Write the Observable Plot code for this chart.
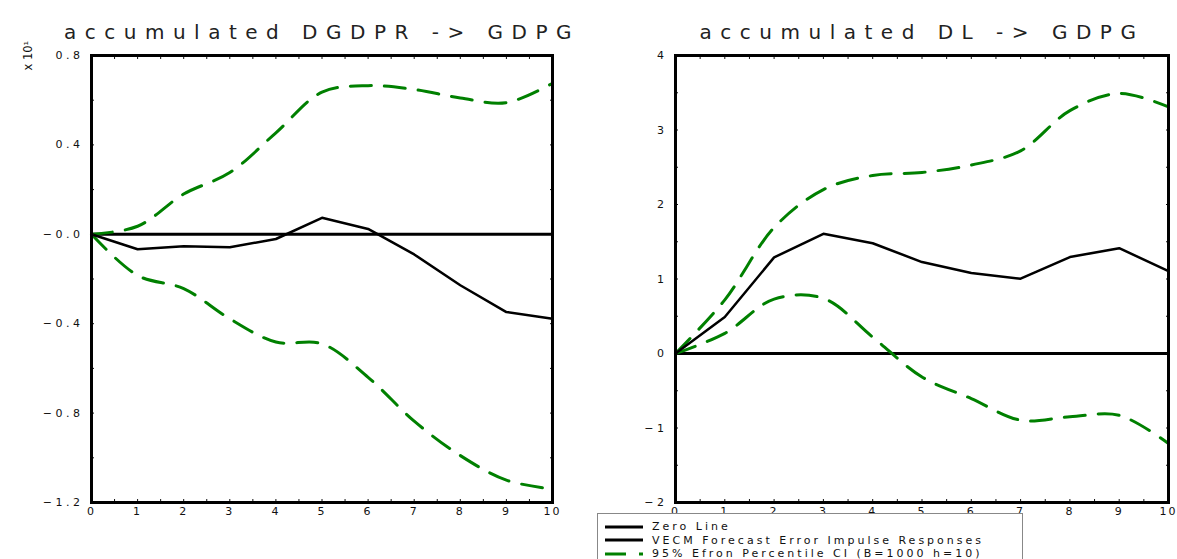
<!DOCTYPE html>
<html>
<head>
<meta charset="utf-8">
<script src="https://cdn.jsdelivr.net/npm/d3@7"></script>
<script src="https://cdn.jsdelivr.net/npm/@observablehq/plot@0.6"></script>
<style>
  body { margin: 0; background: #fff; }
  #wrap { position: relative; width: 1177px; height: 559px; overflow: hidden; font-family: "DejaVu Sans", sans-serif; }
  #left { position: absolute; left: 0; top: 0; }
  #right { position: absolute; left: 590px; top: 0; }
  #legend { position: absolute; left: 597px; top: 513px; width: 426px; height: 60px; background: #fff;
            border: 1px solid #888; box-sizing: border-box; padding-top: 6px; }
  #legend .row { height: 13.5px; display: flex; align-items: center; font-size: 11px; letter-spacing: 3px; color: #111; }
  #legend svg { margin-left: 7px; margin-right: 9px; }
</style>
</head>
<body>
<div id="wrap">
  <div id="left"></div>
  <div id="right"></div>
  <div id="legend"></div>
</div>
<script>
// horizon steps
const steps = [0, 1, 2, 3, 4, 5, 6, 7, 8, 9, 10];
const halfSteps = [0.5, 1.5, 2.5, 3.5, 4.5, 5.5, 6.5, 7.5, 8.5, 9.5];

// accumulated DGDPR -> GDPG  (x 10^1)
const dgdprResp = [0, -0.067, -0.054, -0.058, -0.021, 0.074, 0.024, -0.09, -0.228, -0.348, -0.378];
const dgdprHi   = [0, 0.036, 0.18, 0.276, 0.454, 0.636, 0.665, 0.648, 0.61, 0.589, 0.676];
const dgdprLo   = [0, -0.184, -0.243, -0.378, -0.482, -0.49, -0.64, -0.836, -0.99, -1.10, -1.14];

// accumulated DL -> GDPG
const dlResp = [0, 0.49, 1.29, 1.607, 1.48, 1.227, 1.08, 1.004, 1.294, 1.414, 1.106];
const dlHi   = [0, 0.72, 1.69, 2.2, 2.39, 2.43, 2.53, 2.72, 3.26, 3.49, 3.31];
const dlLo   = [0, 0.27, 0.73, 0.74, 0.22, -0.315, -0.605, -0.895, -0.85, -0.83, -1.21];

const leftTicks = [0.8, 0.4, 0, -0.4, -0.8, -1.2];
const leftTickLabels = ["0.8", "0.4", "\u22120.0", "\u22120.4", "\u22120.8", "\u22121.2"];
const leftMinor = [0.6, 0.2, -0.2, -0.6, -1.0];

const rightTicks = [4, 3, 2, 1, 0, -1, -2];
const rightTickLabels = ["4", "3", "2", "1", "0", "\u22121", "\u22122"];
const rightMinor = [3.5, 2.5, 1.5, 0.5, -0.5, -1.5];

const legendLabels = ["Zero Line", "VECM Forecast Error Impulse Responses", "95% Efron Percentile CI (B=1000 h=10)"];

const green = "#008000";

function panel({title, resp, lo, hi, yDomain, ticks, tickLabels, minor, width, marginLeft, marginRight, extra = []}) {
  const rows = steps.map((s, i) => ({s, resp: resp[i], lo: lo[i], hi: hi[i]}));
  const fmt = v => tickLabels[ticks.indexOf(v)];
  const allY = ticks.concat(minor);
  const allX = steps.concat(halfSteps);
  const chart = Plot.plot({
    width,
    height: 532,
    marginLeft,
    marginRight,
    marginTop: 55,
    marginBottom: 30,
    x: {domain: [0, 10], label: null},
    y: {domain: yDomain, label: null},
    style: {fontFamily: "DejaVu Sans", fontSize: "11px", color: "#111", background: "transparent", overflow: "visible"},
    marks: [
      Plot.ruleY([0], {stroke: "black", strokeWidth: 3}),
      Plot.line(rows, {x: "s", y: "hi", stroke: green, strokeWidth: 3, strokeDasharray: "21,13", curve: "catmull-rom"}),
      Plot.line(rows, {x: "s", y: "lo", stroke: green, strokeWidth: 3, strokeDasharray: "21,13", curve: "catmull-rom"}),
      Plot.line(rows, {x: "s", y: "resp", stroke: "black", strokeWidth: 2.5}),
      Plot.axisX({ticks: steps, tickSize: 0, tickPadding: 5, tickFormat: d => String(d), label: null}),
      Plot.axisX({ticks: allX, anchor: "bottom", tickSize: -3, tickFormat: () => "", label: null}),
      Plot.axisX({ticks: allX, anchor: "top", tickSize: -3, tickFormat: () => "", label: null}),
      Plot.axisY({ticks, anchor: "left", tickSize: 0, tickPadding: 8, tickFormat: fmt, label: null}),
      Plot.axisY({ticks: allY, anchor: "left", tickSize: -3, tickFormat: () => "", label: null}),
      Plot.axisY({ticks: allY, anchor: "right", tickSize: -3, tickFormat: () => "", label: null}),
      Plot.frame({stroke: "black", strokeWidth: 3}),
      Plot.text([title], {text: d => d, frameAnchor: "top", dy: -31, fontSize: 20, fill: "#222"}),
      ...extra
    ]
  });
  // tick labels: spaced out like the original plotter font
  d3.select(chart).selectAll("g[aria-label='y-axis tick label'] text")
    .style("font-size", "11px").style("letter-spacing", "3.5px");
  d3.select(chart).selectAll("g[aria-label='x-axis tick label'] text")
    .style("font-size", "11px").style("letter-spacing", "2px");
  d3.select(chart).selectAll("g[aria-label='text'] text").filter(function() { return this.textContent === title; })
    .style("letter-spacing", "8.5px");
  return chart;
}

const left = panel({
  title: "accumulated DGDPR -> GDPG",
  resp: dgdprResp, lo: dgdprLo, hi: dgdprHi,
  yDomain: [-1.2, 0.8],
  ticks: leftTicks, tickLabels: leftTickLabels, minor: leftMinor,
  width: 580, marginLeft: 91, marginRight: 28,
  extra: [Plot.text(["x 10\u00b9"], {text: d => d, frameAnchor: "top-left", dx: -68, dy: 15, rotate: -90, fontSize: 11.5, fill: "#111"})]
});
d3.select("#left").append(() => left);

const right = panel({
  title: "accumulated DL -> GDPG",
  resp: dlResp, lo: dlLo, hi: dlHi,
  yDomain: [-2, 4],
  ticks: rightTicks, tickLabels: rightTickLabels, minor: rightMinor,
  width: 587, marginLeft: 85, marginRight: 9
});
d3.select("#right").append(() => right);

// legend
const swatches = [
  {stroke: "black", dash: null},
  {stroke: "black", dash: null},
  {stroke: green, dash: "21,13"}
];
const rowsSel = d3.select("#legend").selectAll("div.row").data(legendLabels).join("div").attr("class", "row");
rowsSel.each(function(label, i) {
  const svg = d3.select(this).append("svg").attr("width", 38).attr("height", 6);
  svg.append("line").attr("x1", 0).attr("x2", 38).attr("y1", 3).attr("y2", 3)
    .attr("stroke", swatches[i].stroke).attr("stroke-width", 3)
    .attr("stroke-dasharray", swatches[i].dash);
  d3.select(this).append("span").text(label);
});
</script>
</body>
</html>
